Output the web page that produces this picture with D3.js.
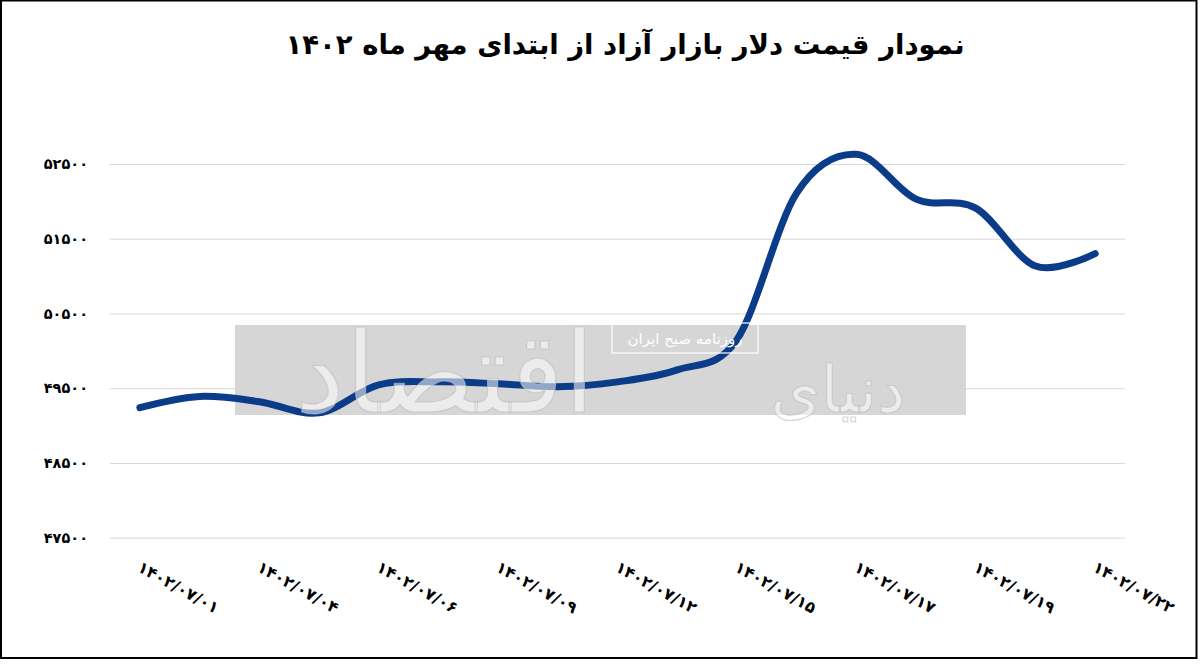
<!DOCTYPE html>
<html>
<head>
<meta charset="utf-8">
<script src="https://cdn.jsdelivr.net/npm/d3@7"></script>
<style>
  html, body { margin: 0; padding: 0; background: #fff; }
  svg { display: block; }
  text { font-family: "DejaVu Sans", sans-serif; }
</style>
</head>
<body>
<svg id="chart" width="1200" height="664"></svg>
<script>
// ---- data ----
const title = "نمودار قیمت دلار بازار آزاد از ابتدای مهر ماه ۱۴۰۲";
const categories = ["۱۴۰۲/۰۷/۰۱","۱۴۰۲/۰۷/۰۳","۱۴۰۲/۰۷/۰۴","۱۴۰۲/۰۷/۰۵","۱۴۰۲/۰۷/۰۶","۱۴۰۲/۰۷/۰۸","۱۴۰۲/۰۷/۰۹","۱۴۰۲/۰۷/۱۰","۱۴۰۲/۰۷/۱۲","۱۴۰۲/۰۷/۱۳","۱۴۰۲/۰۷/۱۵","۱۴۰۲/۰۷/۱۶","۱۴۰۲/۰۷/۱۷","۱۴۰۲/۰۷/۱۸","۱۴۰۲/۰۷/۱۹","۱۴۰۲/۰۷/۲۰","۱۴۰۲/۰۷/۲۲"];
const values = [49240, 49390, 49320, 49170, 49545, 49585, 49560, 49520, 49585, 49745, 50150, 52110, 52630, 52030, 51910, 51135, 51300];
const yTicks = [47500, 48500, 49500, 50500, 51500, 52500];
const xLabelEvery = 2;
const watermarkWords = ["اقتصاد", "دنیای"];
const watermarkSub = "روزنامه صبح ایران";

const faDigits = n => String(n).replace(/\d/g, d => "۰۱۲۳۴۵۶۷۸۹"[d]);

// ---- layout ----
const svg = d3.select("#chart");
const x = d3.scalePoint().domain(categories).range([110, 1125]).padding(0.5);
const y = d3.scaleLinear().domain([47500, 52500]).range([537.7, 164]);

// frame
svg.append("rect").attr("x", 1).attr("y", 0.5).attr("width", 1195.5).attr("height", 657.5)
  .attr("fill", "#fff").attr("stroke", "#000").attr("stroke-width", 2);

// title
svg.append("text").attr("x", 625).attr("y", 54).attr("text-anchor", "middle")
  .attr("direction", "rtl")
  .attr("font-size", 27.5).attr("font-weight", "bold").attr("fill", "#000").text(title);

// gridlines + y labels
const yAxis = d3.axisLeft(y).tickValues(yTicks).tickSize(-(1125 - 110)).tickPadding(22)
  .tickFormat(faDigits);
const gy = svg.append("g").attr("transform", "translate(110,0)").call(yAxis);
gy.select(".domain").remove();
gy.selectAll(".tick line").attr("stroke", "#d9d9d9").attr("stroke-width", 1);
gy.selectAll(".tick text").attr("font-size", 14.5).attr("font-weight", "bold")
  .attr("fill", "#000").style("font-family", "DejaVu Sans");

// watermark background
svg.append("rect").attr("x", 235).attr("y", 325).attr("width", 731).attr("height", 90)
  .attr("fill", "#d6d6d6");

// line
const line = d3.line().x((d, i) => x(categories[i])).y(d => y(d)).curve(d3.curveCardinal.tension(0));
svg.append("path").datum(values).attr("d", line).attr("fill", "none")
  .attr("stroke", "#0b3c8a").attr("stroke-width", 7).attr("stroke-linecap", "round");

// watermark overlay (sized so each word fits its slot)
const wm = [{t: watermarkWords[0], cx: 445, w: 300}, {t: watermarkWords[1], cx: 838, w: 135}];
svg.selectAll(".wm").data(wm).enter().append("text").attr("class", "wm")
  .attr("x", d => d.cx).attr("y", 412).attr("text-anchor", "middle")
  .attr("direction", "rtl")
  .attr("font-size", 100).attr("fill", "#fff").attr("fill-opacity", 0.55)
  .attr("stroke", "#bdbdbd").attr("stroke-opacity", 0.6).attr("stroke-width", 1.2)
  .text(d => d.t)
  .each(function(d) {
    const len = this.getComputedTextLength();
    this.setAttribute("font-size", Math.min(150, 100 * d.w / len));
  });
svg.append("rect").attr("x", 612).attr("y", 323).attr("width", 146).attr("height", 30)
  .attr("fill", "none").attr("stroke", "#fff").attr("stroke-width", 1.2);
svg.append("text").attr("x", 685).attr("y", 344).attr("text-anchor", "middle")
  .attr("direction", "rtl").attr("font-size", 15).attr("fill", "#fff").text(watermarkSub);

// x labels
const xAxis = d3.axisBottom(x).tickSize(0)
  .tickValues(categories.filter((c, i) => i % xLabelEvery === 0));
const gx = svg.append("g").attr("transform", "translate(0,560)").call(xAxis);
gx.select(".domain").remove();
gx.selectAll(".tick text")
  .attr("text-anchor", "start").attr("dy", 0).attr("y", 0).attr("x", 0)
  .attr("dominant-baseline", "hanging")
  .attr("transform", "translate(2,0) rotate(29)")
  .attr("font-size", 16).attr("font-weight", "bold").attr("fill", "#000")
  .style("font-family", "DejaVu Sans");
</script>
</body>
</html>
